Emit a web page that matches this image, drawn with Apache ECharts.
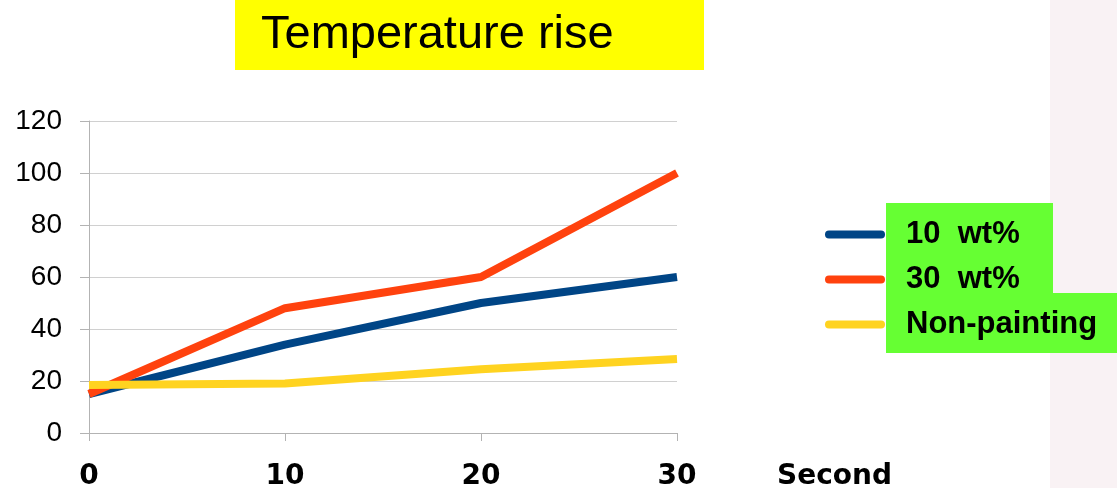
<!DOCTYPE html>
<html>
<head>
<meta charset="utf-8">
<script src="https://cdn.jsdelivr.net/npm/echarts@6/dist/echarts.min.js"></script>
<style>html,body{margin:0;padding:0;background:#fff;}#c{width:1117px;height:488px;}</style>
</head>
<body>
<div id="c"></div>
<script>
const titleText = 'Temperature rise';
const categories = ['0', '10', '20', '30'];
const xName = 'Second';
const seriesNames = ['10\u00a0\u00a0wt%', '30\u00a0\u00a0wt%', 'Non-painting'];
const wt10 = [15, 34, 50, 60];
const wt30 = [15, 48, 60, 100];
const nonPainting = [18.5, 19, 24.5, 28.5];
const yTicks = [0, 20, 40, 60, 80, 100, 120];
const colors = ['#004586', '#ff420e', '#ffd320'];

const chart = echarts.init(document.getElementById('c'));
const seriesData = [wt10, wt30, nonPainting];
chart.setOption({
  animation: false,
  backgroundColor: '#ffffff',
  graphic: [
    { type: 'rect', z: -10, shape: { x: 1050, y: 0, width: 67, height: 488 }, style: { fill: '#f9f2f4' } },
    { type: 'rect', z: -5, shape: { x: 235, y: 0, width: 469, height: 70 }, style: { fill: '#ffff00' } },
    { type: 'rect', z: -5, shape: { x: 886, y: 203, width: 167, height: 91 }, style: { fill: '#66ff33' } },
    { type: 'rect', z: -5, shape: { x: 886, y: 293, width: 231, height: 60 }, style: { fill: '#66ff33' } }
  ],
  title: {
    text: titleText,
    left: 256,
    top: 7,
    textStyle: { fontFamily: 'Liberation Sans', fontSize: 47, fontWeight: 'normal', color: '#000' }
  },
  legend: {
    orient: 'vertical',
    left: 820,
    top: 214,
    itemWidth: 60,
    itemHeight: 8,
    itemGap: 14,
    icon: 'path://M4,0 L56,0 A4,4 0 0 1 56,8 L4,8 A4,4 0 0 1 4,0 Z',
    textStyle: { fontFamily: 'Liberation Sans', fontSize: 31, fontWeight: 'bold', color: '#000', lineHeight: 31, padding: [0, 0, 0, 16] },
    data: seriesNames
  },
  grid: { left: 89, right: 440, top: 121, bottom: 55, containLabel: false, outerBoundsMode: 'none' },
  xAxis: {
    type: 'category',
    data: categories,
    boundaryGap: false,
    name: xName,
    nameLocation: 'end',
    nameGap: 100,
    nameTextStyle: { fontFamily: 'DejaVu Sans', fontSize: 28, fontWeight: 'bold', color: '#000', verticalAlign: 'top', padding: [30, 0, 0, 0] },
    axisLine: { lineStyle: { color: '#b3b3b3', width: 1 } },
    axisTick: { show: true, length: 8, lineStyle: { color: '#b3b3b3' } },
    axisLabel: { margin: 30, fontFamily: 'DejaVu Sans', fontSize: 28, fontWeight: 'bold', color: '#000' },
    splitLine: { show: false }
  },
  yAxis: {
    type: 'value',
    min: 0,
    max: 120,
    interval: 20,
    axisLine: { show: true, lineStyle: { color: '#b3b3b3', width: 1 } },
    axisTick: { show: true, length: 9, lineStyle: { color: '#b3b3b3' } },
    axisLabel: { margin: 27, fontFamily: 'Liberation Sans', fontSize: 28, color: '#000', padding: [10, 0, 0, 0],
      formatter: v => yTicks.includes(v) ? String(v) : '' },
    splitLine: { lineStyle: { color: '#d0d0d0', width: 1 } }
  },
  series: seriesNames.map((n, i) => ({
    name: n,
    type: 'line',
    data: seriesData[i],
    symbol: 'none',
    color: colors[i],
    lineStyle: { width: 8, color: colors[i] }
  }))
});
</script>
</body>
</html>
